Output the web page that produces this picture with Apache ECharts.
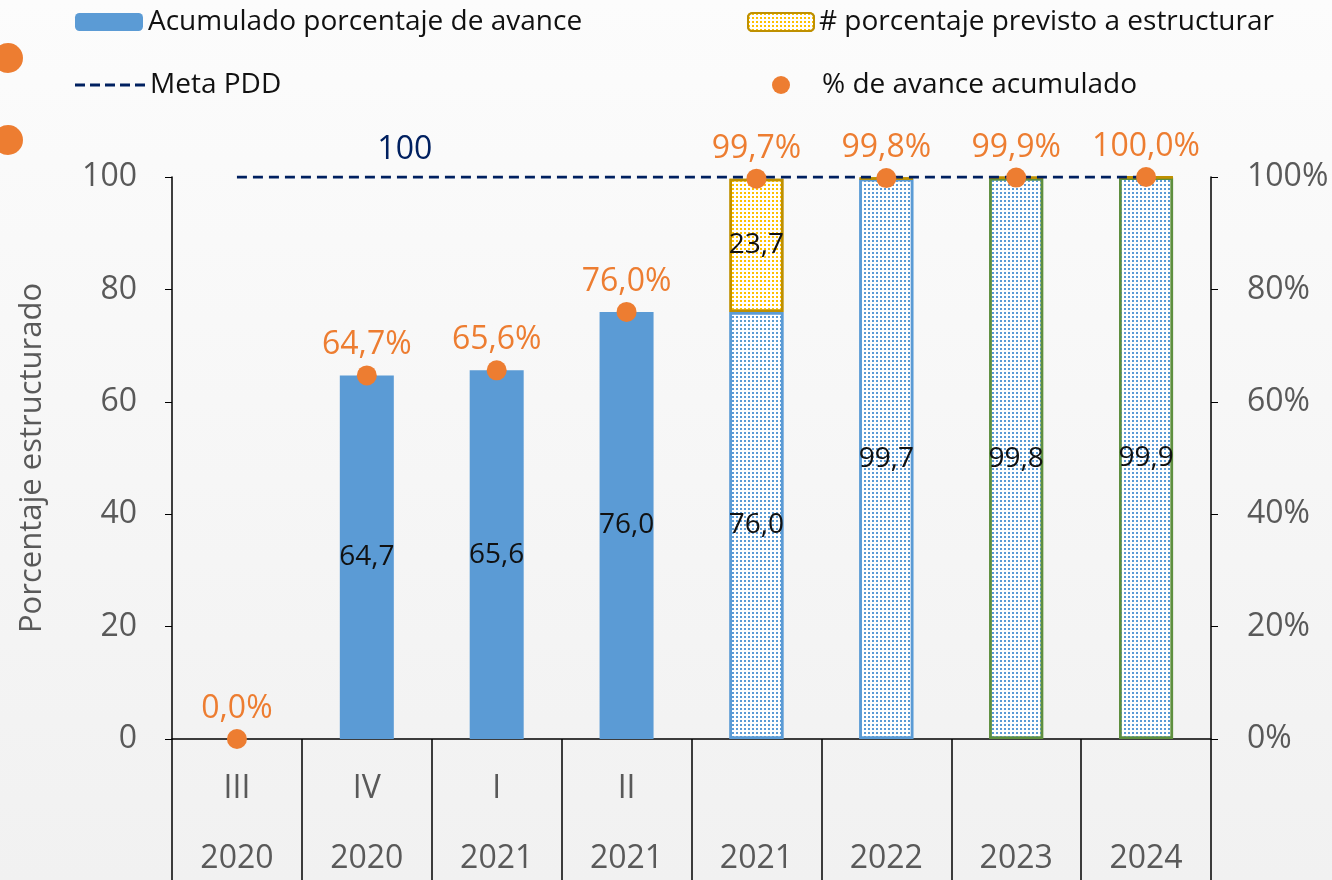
<!DOCTYPE html>
<html>
<head>
<meta charset="utf-8">
<script src="https://cdn.jsdelivr.net/npm/echarts@6/dist/echarts.min.js"></script>
<style>
  html, body { margin: 0; padding: 0; }
  #chart { width: 1332px; height: 880px; }
</style>
</head>
<body>
<div id="chart"></div>
<script>
// datos
const quarters = ['III', 'IV', 'I', 'II', '', '', '', '']
const years = ['2020', '2020', '2021', '2021', '2021', '2022', '2023', '2024']
const acumulado = [null, 64.7, 65.6, 76.0, 76.0, 99.7, 99.8, 99.9]
const previsto = [null, null, null, null, 23.7, 0.1, 0.1, 0.1]
const metaPDD = [100, 100, 100, 100, 100, 100, 100, 100]
const avancePct = [0, 0.647, 0.656, 0.760, 0.997, 0.998, 0.999, 1.000]
const leftTicks = [0, 20, 40, 60, 80, 100]

const FONT = 'Open Sans'
const BLUE = '#5B9BD5'
const ORANGE = '#ED7D31'
const NAVY = '#002060'
const GREY = '#595959'

const fmt = v => v.toFixed(1).replace('.', ',')

function dots(color) {
  return { symbol: 'rect', symbolSize: 1, dashArrayX: [2, 2], dashArrayY: [2, 2], color: color }
}

// icono de línea discontinua para la leyenda
const dashIcon = 'path://M0,0h10v3h-10z M15,0h10v3h-10z M30,0h10v3h-10z M45,0h10v3h-10z M60,0h10v3h-10z'

const chart = echarts.init(document.getElementById('chart'))

chart.setOption({
  backgroundColor: {
    type: 'linear', x: 0, y: 0, x2: 0, y2: 1,
    colorStops: [{ offset: 0, color: '#fcfcfc' }, { offset: 1, color: '#f1f1f1' }]
  },
  textStyle: { fontFamily: FONT },
  animation: false,
  graphic: [
    { type: 'circle', shape: { cx: 8, cy: 58, r: 15 }, style: { fill: ORANGE } },
    { type: 'circle', shape: { cx: 8, cy: 140, r: 15 }, style: { fill: ORANGE } }
  ],
  legend: [
    {
      left: 70, top: 3, itemWidth: 68, itemHeight: 18,
      data: ['Acumulado porcentaje de avance'],
      textStyle: { fontSize: 28, color: '#111', fontFamily: FONT }
    },
    {
      left: 742, top: 3, itemWidth: 66, itemHeight: 18,
      data: ['# porcentaje previsto a estructurar'],
      textStyle: { fontSize: 28, color: '#111', fontFamily: FONT }
    },
    {
      left: 70, top: 66, itemWidth: 70, itemHeight: 3,
      data: [{ name: 'Meta PDD', icon: dashIcon }],
      textStyle: { fontSize: 28, color: '#111', fontFamily: FONT }
    },
    {
      left: 767, top: 66, itemWidth: 18, itemHeight: 18,
      data: ['% de avance acumulado'],
      textStyle: { fontSize: 28, color: '#111', fontFamily: FONT, padding: [0, 0, 0, 27] }
    }
  ],
  grid: { left: 172, right: 121, top: 177, bottom: 141, outerBoundsMode: 'none' },
  xAxis: {
    type: 'category',
    data: quarters.map((q, i) => q + '\n' + years[i]),
    axisLine: { lineStyle: { color: '#000', width: 1.5 } },
    axisTick: { show: true, interval: 0, length: 145, lineStyle: { color: '#000', width: 1.5 } },
    axisLabel: { interval: 0, margin: 15, fontSize: 32, color: GREY, lineHeight: 70, fontFamily: FONT }
  },
  yAxis: [
    {
      type: 'value', min: 0, max: 100, interval: 20,
      name: 'Porcentaje estructurado', nameLocation: 'middle', nameGap: 124,
      nameTextStyle: { fontSize: 31, color: GREY, fontFamily: FONT },
      axisLine: { show: true, lineStyle: { color: '#000', width: 1.5 } },
      axisTick: { show: true, length: 7, lineStyle: { color: '#000' } },
      splitLine: { show: false },
      axisLabel: {
        margin: 35, fontSize: 32, color: GREY, fontFamily: FONT,
        formatter: v => leftTicks.includes(v) ? String(v) : ''
      }
    },
    {
      type: 'value', min: 0, max: 1, interval: 0.2, position: 'right',
      axisLine: { show: true, lineStyle: { color: '#000', width: 1.5 } },
      axisTick: { show: true, length: 7, lineStyle: { color: '#000' } },
      splitLine: { show: false },
      axisLabel: {
        margin: 36, fontSize: 32, color: GREY, fontFamily: FONT,
        formatter: v => Math.round(v * 100) + '%'
      }
    }
  ],
  series: [
    {
      name: 'Acumulado porcentaje de avance',
      type: 'bar', stack: 'a', barWidth: 54,
      itemStyle: { color: BLUE },
      label: {
        show: true, position: 'inside', fontSize: 28, color: '#111', fontFamily: FONT,
        formatter: p => p.value == null ? '' : fmt(p.value)
      },
      data: acumulado.map((v, i) => {
        if (i < 4) return v
        const border = i >= 6 ? '#5E8F3E' : BLUE
        return {
          value: v,
          itemStyle: { color: '#ffffff', borderColor: border, borderWidth: 2.5, decal: dots(BLUE) }
        }
      })
    },
    {
      name: '# porcentaje previsto a estructurar',
      type: 'bar', stack: 'a', barWidth: 54,
      itemStyle: { color: '#ffffff', borderColor: '#BF9000', borderWidth: 2.5, decal: dots('#FFC000') },
      label: {
        show: true, position: 'inside', fontSize: 28, color: '#111', fontFamily: FONT,
        formatter: p => (p.value == null || p.value < 1) ? '' : fmt(p.value)
      },
      data: previsto
    },
    {
      name: 'Meta PDD',
      type: 'line', symbol: 'none', z: 4,
      lineStyle: { color: NAVY, width: 3, type: [10, 6] },
      itemStyle: { color: NAVY },
      markPoint: {
        symbol: 'circle', symbolSize: 0,
        label: { show: true, position: 'top', offset: [38, -6], fontSize: 32, color: NAVY, fontFamily: FONT, formatter: '{c}' },
        data: [{ coord: [1, metaPDD[1]], value: metaPDD[1] }]
      },
      data: metaPDD
    },
    {
      name: '% de avance acumulado',
      type: 'scatter', yAxisIndex: 1, symbolSize: 20, z: 6,
      itemStyle: { color: ORANGE, opacity: 1 },
      label: {
        show: true, position: 'top', distance: 4, fontSize: 32, color: ORANGE, fontFamily: FONT,
        formatter: p => fmt(p.value * 100) + '%'
      },
      data: avancePct
    }
  ]
})
</script>
</body>
</html>
